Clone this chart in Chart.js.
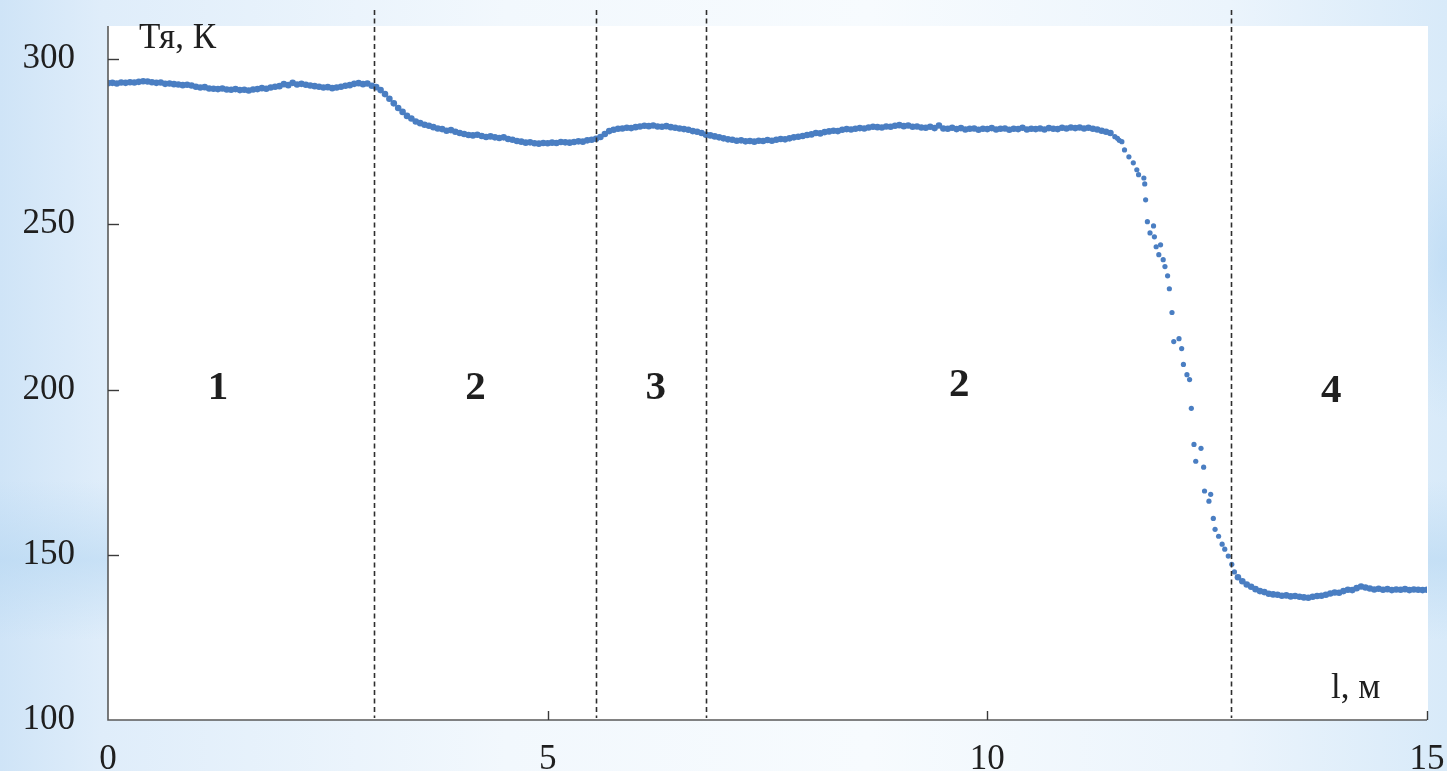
<!DOCTYPE html>
<html lang="ru">
<head>
<meta charset="utf-8">
<title>Тя, К</title>
<script src="https://cdn.jsdelivr.net/npm/chart.js@4.4.1/dist/chart.umd.min.js"></script>
<style>
  html, body { margin: 0; padding: 0; }
  body {
    width: 1447px; height: 771px; overflow: hidden;
    background:
      linear-gradient(to bottom, rgba(180, 214, 242, 0) 480px, rgba(180, 214, 242, 0.55) 560px, rgba(180, 214, 242, 0) 640px),
      radial-gradient(ellipse 60px 160px at 1447px 260px, rgba(180, 214, 243, 0.6), rgba(180, 214, 243, 0) 100%),
      linear-gradient(to right, #cfe4f7 0%, #dfedfa 7%, #f2f8fd 35%, #f7fbfe 60%, #ebf4fc 85%, #d8eaf9 100%);
  }
  #wrap { position: absolute; left: 0; top: 0; width: 1447px; height: 771px; }
</style>
</head>
<body>
<div id="wrap"><canvas id="chart"></canvas></div>
<script>
// Core temperature along the length, l (m) -> Tя (K)

// Upper plateau, sections 1-3-2
const positionsUpper = [
  0.00,0.05,0.10,0.15,0.20,0.25,0.30,0.35,0.40,0.45,0.50,0.55,0.60,0.65,0.70,0.75,0.80,0.85,0.90,0.95,
  1.00,1.05,1.10,1.15,1.20,1.25,1.30,1.35,1.40,1.45,1.50,1.55,1.60,1.65,1.70,1.75,1.80,1.85,1.90,1.95,
  2.00,2.05,2.10,2.15,2.20,2.25,2.30,2.35,2.40,2.45,2.50,2.55,2.60,2.65,2.70,2.75,2.80,2.85,2.90,2.95,
  3.00,3.05,3.10,3.15,3.20,3.25,3.30,3.35,3.40,3.45,3.50,3.55,3.60,3.65,3.70,3.75,3.80,3.85,3.90,3.95,
  4.00,4.05,4.10,4.15,4.20,4.25,4.30,4.35,4.40,4.45,4.50,4.55,4.60,4.65,4.70,4.75,4.80,4.85,4.90,4.95,
  5.00,5.05,5.10,5.15,5.20,5.25,5.30,5.35,5.40,5.45,5.50,5.55,5.60,5.65,5.70,5.75,5.80,5.85,5.90,5.95,
  6.00,6.05,6.10,6.15,6.20,6.25,6.30,6.35,6.40,6.45,6.50,6.55,6.60,6.65,6.70,6.75,6.80,6.85,6.90,6.95,
  7.00,7.05,7.10,7.15,7.20,7.25,7.30,7.35,7.40,7.45,7.50,7.55,7.60,7.65,7.70,7.75,7.80,7.85,7.90,7.95,
  8.00,8.05,8.10,8.15,8.20,8.25,8.30,8.35,8.40,8.45,8.50,8.55,8.60,8.65,8.70,8.75,8.80,8.85,8.90,8.95,
  9.00,9.05,9.10,9.15,9.20,9.25,9.30,9.35,9.40,9.45,9.50,9.55,9.60,9.65,9.70,9.75,9.80,9.85,9.90,9.95,
  10.00,10.05,10.10,10.15,10.20,10.25,10.30,10.35,10.40,10.45,10.50,10.55,10.60,10.65,10.70,10.75,10.80,10.85,10.90,10.95,
  11.00,11.05,11.10,11.15,11.20,11.25,11.30,11.35,11.40
];
const tempsUpper = [
  292.7,292.8,292.6,292.9,292.8,293.0,292.9,293.1,293.3,293.2,293.0,292.8,292.9,292.5,292.6,292.4,292.3,292.1,292.2,292.0,
  291.6,291.4,291.5,291.1,291.0,290.9,291.1,290.8,290.7,290.9,290.6,290.7,290.5,290.8,290.9,291.2,291.0,291.4,291.6,291.8,
  292.4,292.1,292.8,292.3,292.5,292.2,292.0,291.8,291.6,291.4,291.5,291.2,291.4,291.6,291.9,292.1,292.5,292.7,292.4,292.6,
  291.9,291.5,290.6,289.4,288.0,286.6,285.2,284.0,282.8,282.0,281.1,280.6,280.1,279.8,279.4,279.0,278.8,278.3,278.5,278.0,
  277.6,277.3,277.0,276.9,277.1,276.7,276.4,276.6,276.3,276.1,276.3,275.8,275.6,275.2,275.0,274.7,274.8,274.5,274.4,274.6,
  274.5,274.7,274.6,274.9,274.8,274.7,274.9,275.1,275.0,275.4,275.6,275.9,276.4,277.3,278.2,278.6,278.9,279.0,279.2,279.1,
  279.4,279.6,279.8,279.7,279.9,279.6,279.5,279.7,279.4,279.2,279.0,278.8,278.6,278.2,278.0,277.6,277.1,276.9,276.6,276.3,
  276.0,275.7,275.6,275.3,275.4,275.1,275.2,275.0,275.3,275.2,275.5,275.3,275.6,275.8,275.7,276.0,276.3,276.5,276.7,277.0,
  277.2,277.6,277.5,277.9,278.1,278.3,278.2,278.6,278.8,278.7,278.9,279.1,279.0,279.3,279.5,279.4,279.3,279.6,279.5,279.8,
  280.0,279.7,279.9,279.5,279.6,279.3,279.2,279.5,279.1,279.9,279.0,278.9,279.2,278.8,279.1,278.7,278.9,279.0,278.6,278.9,
  278.8,279.1,278.7,278.9,279.0,278.6,278.9,278.8,279.2,278.7,278.9,278.8,279.0,278.7,279.1,278.9,278.8,279.2,279.0,279.3,
  279.1,279.3,279.0,279.2,278.9,278.7,278.3,278.0,277.6
];

// Steep drop between sections 2 and 4
const positionsDrop = [
  11.45,11.48,11.50,11.53,11.56,11.61,11.66,11.70,11.72,11.78,11.79,11.80,11.82,11.85,11.89,11.90,
  11.92,11.95,11.97,12.00,12.02,12.05,12.07,12.10,12.12,12.18,12.21,12.23,12.27,12.30,12.32,12.35,
  12.37,12.43,12.46,12.47,12.52,12.54,12.57,12.59,12.63,12.67,12.70,12.74,12.78,12.81
];
const tempsDrop = [
  276.5,276.0,275.4,275.0,272.5,270.4,268.6,266.5,265.0,264.0,262.2,257.4,250.8,247.4,249.5,246.2,
  243.2,240.8,243.8,239.3,237.2,234.4,230.5,223.3,214.5,215.4,212.4,207.6,204.5,203.0,194.3,183.4,
  178.3,182.2,176.5,169.3,166.2,168.3,161.0,157.7,155.6,153.2,151.7,149.6,147.1,144.8
];

// Lower plateau, section 4
const positionsLower = [
  12.85,12.90,12.95,13.00,13.05,13.10,13.15,13.20,13.25,13.30,13.35,13.40,13.45,13.50,13.55,
  13.60,13.65,13.70,13.75,13.80,13.85,13.90,13.95,14.00,14.05,14.10,14.15,14.20,14.25,14.30,
  14.35,14.40,14.45,14.50,14.55,14.60,14.65,14.70,14.75,14.80,14.85,14.90,14.95,15.00
];
const tempsLower = [
  143.2,142.0,141.0,140.3,139.6,139.0,138.7,138.2,138.0,137.9,137.6,137.7,137.4,137.5,137.3,
  137.1,137.0,137.3,137.5,137.6,137.9,138.3,138.6,138.5,139.0,139.4,139.3,139.9,140.4,140.1,
  139.8,139.5,139.7,139.4,139.6,139.3,139.5,139.4,139.6,139.3,139.5,139.4,139.3,139.4
];

// Section boundaries (m) and section numbers
const boundaries = [3.02, 5.55, 6.80, 12.77];
const sectionLabels = ['1', '2', '3', '2', '4'];
const sectionLabelX = [1.25, 4.18, 6.23, 9.68, 13.91];
const sectionLabelY = [197.1, 197.1, 197.1, 198.0, 196.2];

// Axis ticks
const xTickValues = [0, 5, 10, 15];
const yTickValues = [100, 150, 200, 250, 300];
const yAxisTitle = 'Тя, К';
const xAxisTitle = 'l, м';

const serif = "'Liberation Serif', 'DejaVu Serif', serif";
const inkColor = '#1f1f1f';
const axisColor = '#5a5a5a';
const dotColor = '#4a7ec2';

function toPoints(xs, ys) {
  return xs.map((x, i) => ({ x: x, y: ys[i] }));
}

function dotSet(pts, r) {
  return {
    data: pts,
    backgroundColor: dotColor,
    borderColor: dotColor,
    borderWidth: 0,
    pointRadius: r,
    pointHoverRadius: r,
    showLine: false
  };
}

// keep the plot area exactly where the layout padding puts it
function fixScale(s) {
  s.paddingTop = 0; s.paddingBottom = 0; s.paddingLeft = 0; s.paddingRight = 0;
}

const decor = {
  id: 'decor',
  beforeDraw(chart) {
    const { ctx, chartArea: a } = chart;
    ctx.save();
    ctx.fillStyle = '#ffffff';
    ctx.fillRect(a.left, a.top, a.right - a.left + 1, a.bottom - a.top);
    ctx.restore();
  },
  afterDatasetsDraw(chart) {
    const { ctx, chartArea: a, scales } = chart;
    const xs = scales.x, ys = scales.y;
    ctx.save();
    // dashed section boundaries
    ctx.strokeStyle = '#2e2e2e';
    ctx.lineWidth = 1.6;
    ctx.setLineDash([5, 3.5]);
    boundaries.forEach(b => {
      const px = Math.round(xs.getPixelForValue(b)) + 0.5;
      ctx.beginPath();
      ctx.moveTo(px, a.top - 16);
      ctx.lineTo(px, a.bottom - 2);
      ctx.stroke();
    });
    ctx.setLineDash([]);

    // axes
    ctx.strokeStyle = axisColor;
    ctx.lineWidth = 1.6;
    ctx.beginPath();
    ctx.moveTo(a.left, a.top);
    ctx.lineTo(a.left, a.bottom);
    ctx.lineTo(a.right, a.bottom);
    ctx.stroke();

    // inward tick marks
    ctx.lineWidth = 1.4;
    ctx.strokeStyle = '#3a3a3a';
    yTickValues.forEach(v => {
      if (v === yTickValues[0]) return;
      const py = Math.round(ys.getPixelForValue(v)) + 0.5;
      ctx.beginPath();
      ctx.moveTo(a.left, py);
      ctx.lineTo(a.left + 11, py);
      ctx.stroke();
    });
    xTickValues.forEach(v => {
      if (v === xTickValues[0]) return;
      const px = Math.round(xs.getPixelForValue(v)) + 0.5;
      ctx.beginPath();
      ctx.moveTo(px, a.bottom);
      ctx.lineTo(px, a.bottom - 9);
      ctx.stroke();
    });

    // axis titles
    ctx.fillStyle = inkColor;
    ctx.textBaseline = 'alphabetic';
    ctx.textAlign = 'left';
    ctx.font = '35px ' + serif;
    ctx.fillText(yAxisTitle, a.left + 31, a.top + 22);
    ctx.fillText(xAxisTitle, xs.getPixelForValue(14.0) - 8, a.bottom - 22);

    // section numbers
    ctx.font = 'bold 41px ' + serif;
    ctx.textAlign = 'center';
    sectionLabels.forEach((t, i) => {
      ctx.fillText(t, xs.getPixelForValue(sectionLabelX[i]), ys.getPixelForValue(sectionLabelY[i]));
    });
    ctx.restore();
  }
};

new Chart(document.getElementById('chart'), {
  type: 'scatter',
  data: {
    datasets: [
      dotSet(toPoints(positionsUpper, tempsUpper), 3.3),
      dotSet(toPoints(positionsDrop, tempsDrop), 2.6),
      dotSet(toPoints(positionsLower, tempsLower), 3.3)
    ]
  },
  options: {
    responsive: true,
    maintainAspectRatio: false,
    animation: false,
    events: [],
    layout: { padding: { top: 26, right: 20, left: 0, bottom: 0 } },
    plugins: { legend: { display: false }, tooltip: { enabled: false } },
    scales: {
      x: {
        type: 'linear',
        min: 0, max: 15,
        grid: { display: false, drawTicks: false },
        border: { display: false },
        afterBuildTicks: s => { s.ticks = xTickValues.map(v => ({ value: v })); },
        afterFit: s => { s.height = 51; fixScale(s); },
        ticks: {
          padding: 19,
          color: inkColor,
          font: { family: serif, size: 35 },
          maxRotation: 0,
          autoSkip: false
        }
      },
      y: {
        type: 'linear',
        min: 100, max: 310,
        grid: { display: false, drawTicks: false },
        border: { display: false },
        afterBuildTicks: s => { s.ticks = yTickValues.map(v => ({ value: v })); },
        afterFit: s => { s.width = 108; fixScale(s); },
        ticks: {
          padding: 33,
          color: inkColor,
          font: { family: serif, size: 35 },
          autoSkip: false
        }
      }
    }
  },
  plugins: [decor]
});
</script>
</body>
</html>
